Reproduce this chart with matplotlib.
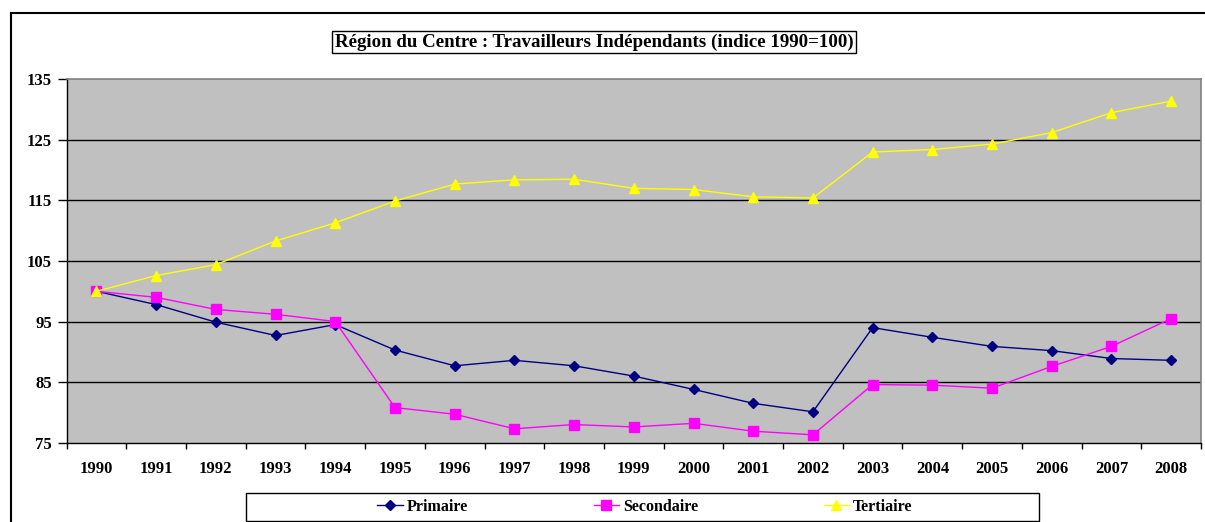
import numpy as np
import matplotlib
matplotlib.use("Agg")
import matplotlib.pyplot as plt
from matplotlib.lines import Line2D
from matplotlib.patches import Rectangle

# données (indice 1990=100)
annees = [str(a) for a in range(1990, 2009)]
primaire = [100.0, 97.8, 94.9, 92.7, 94.5, 90.3, 87.7, 88.6, 87.7, 86.0,
            83.8, 81.5, 80.1, 94.0, 92.4, 90.9, 90.2, 88.9, 88.6]
secondaire = [100.0, 99.0, 97.0, 96.2, 95.0, 80.8, 79.7, 77.3, 78.0, 77.6,
              78.2, 76.9, 76.3, 84.6, 84.5, 84.0, 87.6, 90.9, 95.5]
tertiaire = [100.0, 102.6, 104.4, 108.3, 111.3, 114.9, 117.7, 118.4, 118.5, 117.0,
             116.8, 115.6, 115.4, 123.0, 123.4, 124.3, 126.2, 129.5, 131.4]
yticks = [75, 85, 95, 105, 115, 125, 135]

plt.rcParams['font.family'] = ['Liberation Serif', 'DejaVu Serif']
plt.rcParams['font.weight'] = 'bold'

W, H = 1205, 522
fig = plt.figure(figsize=(W / 100, H / 100), dpi=100)

def fx(px):
    return px / W

def fy(py):
    return 1 - py / H

# cadre extérieur
fig.add_artist(Line2D([fx(10.7), fx(10.7)], [fy(13.3), 0], color='black', lw=1.5))
fig.add_artist(Line2D([fx(10.7), 1], [fy(13.3), fy(13.3)], color='black', lw=1.5))

ax = fig.add_axes([fx(66.6), fy(442.7), fx(1201) - fx(66.6), fy(79.3) - fy(442.7)])
ax.set_facecolor('#C0C0C0')

x = np.arange(len(annees))
ax.plot(x, primaire, color='#000080', lw=1, marker='D', ms=5, mec='#000080', mfc='#000080', label='Primaire', zorder=3)
ax.plot(x, secondaire, color='#FF00FF', lw=1, marker='s', ms=7, mec='#FF00FF', mfc='#FF00FF', label='Secondaire', zorder=3)
ax.plot(x, tertiaire, color='#FFFF00', lw=1, marker='^', ms=7, mec='#FFFF00', mfc='#FFFF00', label='Tertiaire', zorder=3)

ax.set_xlim(-0.5, len(annees) - 0.5)
ax.set_ylim(75, 135)
ax.set_yticks(yticks)
ax.set_yticklabels([str(v) for v in yticks], fontsize=12, fontweight='bold')
ax.set_xticks(x)
ax.set_xticklabels(annees, fontsize=12, fontweight='bold')
ax.set_xticks(np.arange(-0.5, len(annees)), minor=True)
ax.tick_params(axis='x', which='major', length=0, pad=13)
ax.tick_params(axis='x', which='minor', length=4, width=1, direction='out')
ax.tick_params(axis='y', length=6.5, width=1, direction='out', pad=4)

for v in yticks[1:-1]:
    ax.axhline(v, color='black', lw=1, zorder=1)

for s in ['top', 'right']:
    ax.spines[s].set_color('#808080')
    ax.spines[s].set_linewidth(1.2)
for s in ['left', 'bottom']:
    ax.spines[s].set_color('black')
    ax.spines[s].set_linewidth(1)

# titre
fig.text(fx(594), fy(42), 'Région du Centre : Travailleurs Indépendants (indice 1990=100)',
         ha='center', va='center', fontsize=13.6, fontweight='bold',
         bbox=dict(boxstyle='square,pad=0.15', fc='white', ec='black', lw=1))

# légende
fig.add_artist(Rectangle((fx(246), fy(521)), fx(1039) - fx(246), fy(493) - fy(521),
                         transform=fig.transFigure, fill=False, ec='black', lw=1))
handles, labels = ax.get_legend_handles_labels()
leg = fig.legend(handles, labels, loc='center', ncol=3, frameon=False,
                 bbox_to_anchor=(fx(645), fy(507)), prop={'weight': 'bold', 'size': 11.5},
                 columnspacing=7.85, handlelength=1.6, handletextpad=0.25)

fig.savefig('out.png', dpi=100)
